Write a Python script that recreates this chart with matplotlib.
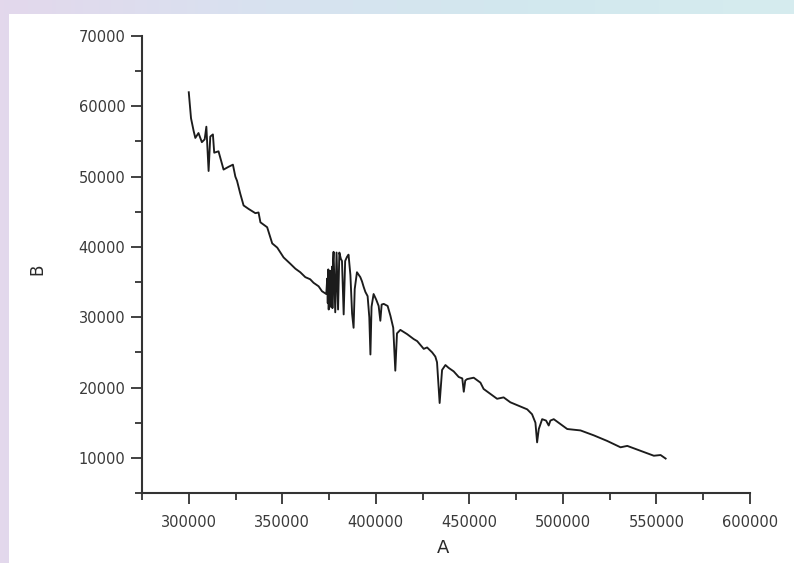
import numpy as np
import matplotlib
matplotlib.use("Agg")
import matplotlib.pyplot as plt
from matplotlib.ticker import MultipleLocator
from matplotlib.colors import LinearSegmentedColormap
from matplotlib.patches import Rectangle

# spectrum
A = [300000, 301200, 302600, 303500, 305200, 307000, 308500, 309400, 310200, 310600,
     311500, 312900, 313600, 315900, 317700, 318600, 321300, 323600, 324900, 325800,
     327500, 329300, 332000, 335600, 337300, 338300, 341900, 344600, 347300, 350700,
     354300, 357000, 359600, 362300, 364900, 366700, 369400, 371200, 373500, 374000,
     374300, 374600, 374800, 375100, 375300, 375600, 375800, 376100, 376300, 376600,
     376800, 377100, 377400, 378300, 379000, 379800, 380500,
     381300, 381900, 382800, 383600, 384600, 385400, 386400, 387300, 388100, 388700,
     389900, 391700, 392600, 393500, 394400, 395600, 396500, 397100, 397700, 398800,
     400200, 401500, 402400, 403100, 404200, 406300, 407800, 409300, 410400, 411300,
     413100, 416700, 420200, 422100, 425600, 427400, 430100, 431800, 432700, 434100,
     435400, 437200, 438900, 441600, 444300, 446200, 447000, 447800, 448800, 452300,
     455900, 457600, 461200, 464800, 468300, 471900, 476400, 480900, 483500, 485300,
     486200, 487100, 488900, 491000, 492400, 493300, 495100, 498700, 502300, 509400,
     516500, 523700, 530800, 534400, 541500, 548600, 552200, 554900]
B = [62000, 58300, 56500, 55500, 56200, 54900, 55300, 57100, 53000, 50800,
     55700, 56000, 53400, 53600, 51900, 51000, 51400, 51700, 50000, 49400,
     47600, 45900, 45400, 44800, 44900, 43500, 42800, 40500, 39900, 38500,
     37600, 36900, 36400, 35700, 35400, 34900, 34400, 33700, 33300, 35500,
     32000, 36800, 31100, 35800, 32000, 36600, 31500, 36200, 32000, 37200,
     31300, 38000, 39300, 30700, 39200, 31100, 39200,
     38300, 38000, 30400, 38000, 38600, 38900, 36000, 30500, 28500, 34000,
     36400, 35700, 35100, 34300, 33600, 33000, 30000, 24700, 31500, 33300,
     32500, 31600, 29500, 31800, 31900, 31600, 30200, 28500, 22400, 27700,
     28200, 27600, 26900, 26600, 25500, 25700, 25000, 24400, 23600, 17800,
     22500, 23200, 22800, 22300, 21500, 21300, 19400, 21000, 21200, 21400,
     20700, 19800, 19100, 18400, 18600, 17900, 17400, 16900, 16200, 15000,
     12200, 14100, 15500, 15300, 14600, 15300, 15500, 14800, 14100, 13900,
     13200, 12400, 11500, 11700, 11000, 10300, 10400, 9900]

fig = plt.figure(figsize=(7.94, 5.63), dpi=100)

# blurred backdrop strips on top / left edges
bg = fig.add_axes([0, 0, 1, 1], zorder=-2)
cmap = LinearSegmentedColormap.from_list("bg", ["#e3d8ec", "#d8e2f0", "#d2e8ee", "#d6ecef"])
grad = np.tile(np.linspace(0, 1, 200), (20, 1))
bg.imshow(grad, cmap=cmap, aspect="auto", extent=[0, 1, 0, 1])
bg.axis("off")
fig.patches.append(Rectangle((9 / 794, 0), 1, (563 - 14) / 563, transform=fig.transFigure,
                             facecolor="white", edgecolor="none", zorder=-1))

ax = fig.add_axes([142 / 794, 1 - 493 / 563, (750 - 142) / 794, (493 - 36) / 563])
ax.set_facecolor("white")
ax.plot(A, B, color="#1c1c1c", linewidth=1.35)

ax.set_xlim(275000, 600000)
ax.set_ylim(5000, 70000)
ax.xaxis.set_major_locator(MultipleLocator(50000))
ax.xaxis.set_minor_locator(MultipleLocator(25000))
ax.yaxis.set_major_locator(MultipleLocator(10000))
ax.yaxis.set_minor_locator(MultipleLocator(5000))

for s in ["top", "right"]:
    ax.spines[s].set_visible(False)
for s in ["left", "bottom"]:
    ax.spines[s].set_color("#333333")
    ax.spines[s].set_linewidth(1.5)

ax.tick_params(which="major", direction="out", length=8, width=1.3, color="#333333",
               labelsize=10.5, labelcolor="#3a3a3a")
ax.tick_params(which="minor", direction="out", length=5, width=1.3, color="#333333")
ax.tick_params(axis="x", which="major", pad=8)
ax.tick_params(axis="y", which="major", pad=4)

ax.set_xlabel("A", fontsize=13, color="#2a2a2a")
ax.set_ylabel("B", fontsize=12, color="#2a2a2a")
ax.xaxis.set_label_coords(0.495, -0.10)
ax.yaxis.set_label_coords(-0.158, 0.49)

plt.savefig("out.png", dpi=100)
